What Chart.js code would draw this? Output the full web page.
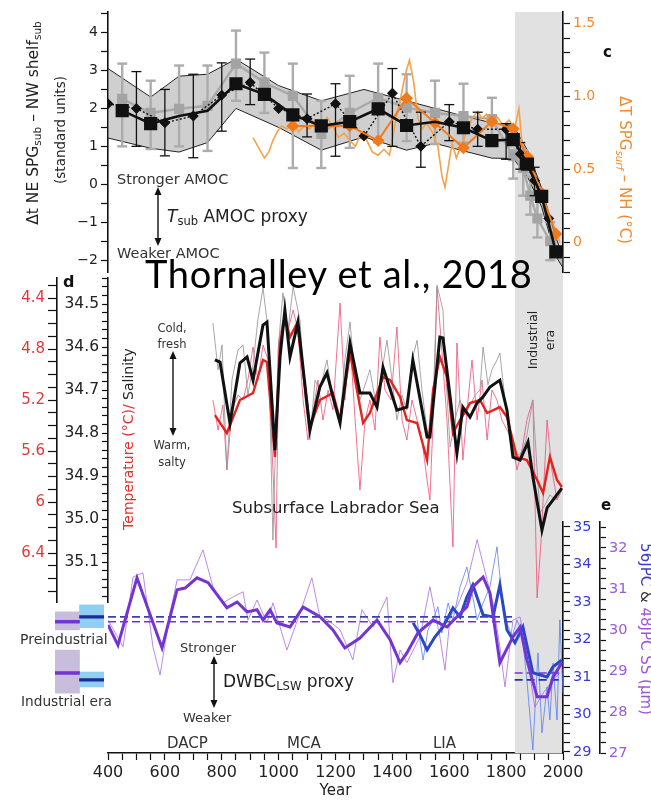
<!DOCTYPE html>
<html>
<head>
<meta charset="utf-8">
<script src="https://cdn.jsdelivr.net/npm/chart.js@4.4.1/dist/chart.umd.min.js"></script>
<style>
  html, body { margin: 0; padding: 0; background: #fff; }
  #fig { position: relative; width: 651px; height: 801px; overflow: hidden; font-family: "DejaVu Sans", sans-serif; }
  #fig canvas, #fig svg { position: absolute; left: 0; top: 0; }
  .t { position: absolute; white-space: nowrap; line-height: 1; color: #333; }
  .rl { transform: translate(-50%, -50%) rotate(-90deg); }
  .rr { transform: translate(-50%, -50%) rotate(90deg); }
  sub { font-size: 0.68em; vertical-align: -0.3em; line-height: 0; }
  .lbl { font-weight: bold; color: #111; font-size: 15px; }
</style>
</head>
<body>
<div id="fig">
  <canvas id="frame" width="651" height="801"></canvas>
  <canvas id="panelC" width="651" height="801"></canvas>
  <canvas id="panelD" width="651" height="801"></canvas>
  <canvas id="panelE" width="651" height="801"></canvas>
  <canvas id="boxes" width="651" height="801"></canvas>

  <svg width="651" height="801">
    <g fill="#111" stroke="#111" stroke-width="1.4">
      <line x1="158" y1="193" x2="158" y2="240"/>
      <polygon stroke="none" points="158,187 154.5,195 161.5,195"/>
      <polygon stroke="none" points="158,246 154.5,238 161.5,238"/>
      <line x1="173" y1="357" x2="173" y2="430"/>
      <polygon stroke="none" points="173,351 169.5,359 176.5,359"/>
      <polygon stroke="none" points="173,436 169.5,428 176.5,428"/>
      <line x1="214" y1="662" x2="214" y2="702"/>
      <polygon stroke="none" points="214,656 210.5,664 217.5,664"/>
      <polygon stroke="none" points="214,708 210.5,700 217.5,700"/>
    </g>
  </svg>

  <div class="t" style="left:145px;top:254px;font-family:Lato;font-size:38px;letter-spacing:0.7px;color:#000;">Thornalley et al., 2018</div>

  <div class="t rl" style="left:34px;top:123px;font-size:15.5px;color:#222;">Δt NE SPG<sub>sub</sub> – NW shelf<sub>sub</sub></div>
  <div class="t rl" style="left:61px;top:130px;font-size:13.5px;color:#222;">(standard units)</div>
  <div class="t rr" style="left:624px;top:170px;font-size:15px;color:#f08a30;">ΔT SPG<sub><i>surf</i></sub> – NH (°C)</div>
  <div class="t lbl" style="left:603px;top:45px;">c</div>
  <div class="t" style="left:117px;top:172px;font-size:14.5px;">Stronger AMOC</div>
  <div class="t" style="left:167px;top:208px;font-size:17px;color:#222;"><i>T</i><sub>sub</sub> AMOC proxy</div>
  <div class="t" style="left:117px;top:246px;font-size:14.5px;">Weaker AMOC</div>

  <div class="t lbl" style="left:63px;top:274px;font-size:16px;">d</div>
  <div class="t rl" style="left:128px;top:439px;font-size:14px;"><span style="color:#e03030;">Temperature (°C)/</span> <span style="color:#222;">Salinity</span></div>
  <div class="t" style="left:142px;top:320px;width:60px;text-align:center;font-size:11.5px;line-height:16px;">Cold,<br>fresh</div>
  <div class="t" style="left:142px;top:437px;width:60px;text-align:center;font-size:11.5px;line-height:17px;">Warm,<br>salty</div>
  <div class="t" style="left:232px;top:500px;font-size:16.5px;color:#222;">Subsurface Labrador Sea</div>
  <div class="t rl" style="left:541px;top:340px;font-size:12.5px;line-height:17px;text-align:center;color:#222;">Industrial<br>era</div>

  <div class="t lbl" style="left:601px;top:498px;">e</div>
  <div class="t rr" style="left:645px;top:629px;font-size:15px;"><span style="color:#3a3ad0;">56JPC</span> <span style="color:#333;">&amp;</span> <span style="color:#9a5ad8;">48JPC SS (µm)</span></div>
  <div class="t" style="left:180px;top:641px;font-size:13px;">Stronger</div>
  <div class="t" style="left:183px;top:711px;font-size:13px;">Weaker</div>
  <div class="t" style="left:223px;top:673px;font-size:17px;color:#222;">DWBC<sub>LSW</sub> proxy</div>
  <div class="t" style="left:20px;top:632px;font-size:14px;">Preindustrial</div>
  <div class="t" style="left:21px;top:695px;font-size:13.7px;">Industrial era</div>
  <div class="t" style="left:167px;top:736px;font-size:15px;">DACP</div>
  <div class="t" style="left:287px;top:736px;font-size:15px;">MCA</div>
  <div class="t" style="left:433px;top:736px;font-size:15px;">LIA</div>
</div>

<script>
// ---------- panel c: T_sub AMOC proxy (left axis) and SPG SST (right axis) ----------
const cBandYears = [400, 550, 650, 750, 850, 1000, 1150, 1300, 1450, 1550, 1650, 1750, 1825, 1875, 1925, 1975, 2000];
const cBandHigh = [3.05, 2.3, 2.85, 2.9, 3.3, 2.6, 2.2, 2.5, 2.2, 2.0, 1.8, 1.62, 1.55, 0.9, -0.1, -1.4, -1.9];
const cBandLow = [1.22, 0.95, 0.85, 1.1, 2.0, 1.5, 0.9, 1.25, 0.9, 1.08, 0.88, 0.69, 0.68, 0.2, -0.6, -1.9, -2.2];

const cSquareYears = [450, 550, 650, 750, 850, 950, 1050, 1150, 1250, 1350, 1450, 1550, 1650, 1750, 1825, 1875, 1925, 1975];
const cBlackSquares = [1.94, 1.6, 1.8, 1.94, 2.65, 2.37, 1.83, 1.54, 1.65, 1.99, 1.55, 1.65, 1.49, 1.15, 1.18, 0.53, -0.32, -1.78];
const cHiddenSquares = [650, 750, 1550];

const cGreyYears = [450, 550, 650, 750, 850, 950, 1050, 1150, 1250, 1350, 1450, 1550, 1650, 1750, 1825, 1860, 1885, 1910, 1955];
const cGreySquares = [2.25, 1.88, 1.99, 2.07, 3.18, 2.68, 2.33, 1.33, 1.88, 2.28, 2.02, 1.88, 1.8, 1.72, 0.74, 0.43, -0.3, -0.9, -1.5];
const cGreyLow = [1.0, 0.93, 1.0, 0.88, 2.2, 1.88, 0.43, 0.43, 0.96, 1.1, 1.14, 1.06, 1.1, 1.2, 0.15, -0.3, -0.8, -1.4, -2.0];
const cGreyHigh = [3.18, 2.73, 3.13, 3.13, 4.05, 3.47, 3.18, 2.2, 2.86, 3.18, 2.9, 2.73, 2.65, 2.28, 0.9, 0.9, 0.2, -0.4, -1.0];

const cDiamondYears = [400, 500, 600, 700, 800, 900, 1000, 1100, 1200, 1300, 1400, 1500, 1600, 1700, 1800, 1850, 1900, 1950];
const cDiamonds = [2.12, 2.0, 1.62, 1.8, 2.35, 2.68, 2.0, 1.73, 2.12, 1.27, 2.4, 1.0, 1.65, 1.45, 1.45, 0.8, 0.1, -0.9];
const cDiamondLow = [null, 1.0, 0.75, 0.7, 1.4, 2.1, null, 1.25, 0.74, null, 1.0, 0.45, 1.15, 1.0, 0.66, 0.4, -0.3, null];
const cDiamondHigh = [null, 2.97, 2.5, 2.9, 3.2, 3.3, null, 2.38, 2.65, null, 3.05, 1.9, 2.1, 1.9, 1.6, 1.1, 0.45, null];

const cOrangeDiamondYears = [1050, 1150, 1250, 1350, 1450, 1550, 1650, 1750, 1825, 1875, 1925, 1975];
const cOrangeDiamonds = [0.8, 0.8, 0.8, 0.7, 0.99, 0.82, 0.65, 0.83, 0.78, 0.59, 0.34, 0.06];
const cOrangeYears = [910, 930, 950, 965, 980, 995, 1010, 1030, 1050, 1070, 1090, 1110, 1130, 1150, 1170, 1190, 1210, 1230, 1250, 1270,
  1290, 1310, 1330, 1350, 1370, 1390, 1410, 1430, 1445, 1460, 1475, 1490, 1505, 1520, 1540, 1560, 1575, 1585, 1595, 1610,
  1625, 1640, 1660, 1680, 1700, 1715, 1730, 1750, 1770, 1790, 1810, 1830, 1845, 1855, 1870, 1890, 1910, 1930, 1950, 1970, 1990];
const cOrange = [0.72, 0.65, 0.58, 0.62, 0.7, 0.76, 0.8, 0.78, 0.82, 0.76, 0.8, 0.78, 0.84, 0.78, 0.86, 0.8, 0.72, 0.75, 0.7, 0.66,
  0.75, 0.7, 0.62, 0.6, 0.64, 0.6, 0.82, 1.0, 1.15, 1.25, 1.1, 0.85, 0.78, 0.82, 0.76, 0.66, 0.45, 0.38, 0.5, 0.68,
  0.58, 0.66, 0.75, 0.85, 0.9, 0.85, 0.88, 0.82, 0.86, 0.8, 0.84, 0.78, 0.92, 0.7, 0.6, 0.5, 0.4, 0.3, 0.2, 0.1, 0.0];

// ---------- panel d: subsurface Labrador Sea salinity / temperature ----------
const dBlackYears = [776, 794, 829, 864, 889, 910, 945, 959, 987, 1005, 1022, 1040, 1068, 1110, 1145, 1170, 1191, 1216, 1251, 1286,
  1321, 1346, 1367, 1416, 1451, 1472, 1522, 1532, 1567, 1578, 1627, 1648, 1673, 1698, 1719, 1743, 1778, 1803, 1824, 1849,
  1877, 1894, 1926, 1944, 1996];
const dSalinity = [34.630, 34.635, 34.777, 34.637, 34.623, 34.677, 34.549, 34.542, 34.840, 34.623, 34.514, 34.623, 34.542, 34.793, 34.693, 34.660, 34.716, 34.777, 34.591, 34.707,
  34.707, 34.740, 34.647, 34.747, 34.740, 34.630, 34.809, 34.809, 34.577, 34.579, 34.847, 34.740, 34.763, 34.730, 34.716, 34.693, 34.677, 34.747, 34.856, 34.863,
  34.821, 34.902, 35.026, 34.974, 34.928];

const dRedYears = [776, 818, 864, 910, 945, 959, 987, 1005, 1022, 1040, 1065, 1110, 1145, 1191, 1216, 1251, 1297, 1321, 1367, 1392,
  1427, 1451, 1487, 1522, 1543, 1567, 1592, 1613, 1638, 1673, 1708, 1733, 1778, 1803, 1838, 1873, 1909, 1930, 1954, 1979, 1996];
const dTemp = [5.318, 5.459, 5.200, 5.145, 4.886, 4.902, 5.647, 4.753, 4.549, 4.706, 4.596, 5.412, 5.200, 5.145, 5.357, 4.831, 5.380, 5.302, 5.020, 5.043,
  5.176, 5.357, 5.380, 5.671, 5.122, 4.863, 5.020, 5.459, 5.357, 5.224, 5.200, 5.302, 5.255, 5.333, 5.647, 5.671, 5.827, 5.929, 5.647, 5.827, 5.882];

const dGreyYears = [769, 787, 801, 818, 836, 857, 875, 892, 910, 927, 945, 963, 980, 998, 1015, 1033, 1051, 1075, 1093, 1110,
  1128, 1145, 1170, 1191, 1216, 1233, 1251, 1269, 1286, 1304, 1321, 1346, 1364, 1381, 1399, 1416, 1434, 1451, 1469, 1487,
  1504, 1522, 1532, 1546, 1557, 1578, 1589, 1603, 1620, 1638, 1655, 1673, 1691, 1708, 1719, 1736, 1750, 1768, 1778, 1796,
  1814, 1831, 1849, 1870, 1894, 1909, 1919, 1937, 1954, 1975, 1996];
const dGreySal = [34.544, 34.653, 34.595, 34.886, 34.677, 34.607, 34.595, 34.712, 34.642, 34.537, 34.463, 34.560, 35.049, 34.607, 34.474, 34.560, 34.460, 34.537, 34.723, 34.816,
  34.677, 34.700, 34.630, 34.723, 34.770, 34.630, 34.542, 34.677, 34.723, 34.688, 34.653, 34.747, 34.653, 34.584, 34.677, 34.770, 34.712, 34.747, 34.630, 34.584,
  34.700, 34.793, 34.816, 34.677, 34.456, 34.514, 34.677, 34.833, 34.770, 34.723, 34.758, 34.735, 34.712, 34.700, 34.600, 34.688, 34.653, 34.630, 34.614, 34.723,
  34.816, 34.851, 34.851, 34.816, 34.723, 34.886, 34.986, 34.967, 34.944, 34.956, 34.933];

const dPinkYears = [769, 787, 804, 818, 836, 857, 875, 892, 910, 927, 945, 963, 980, 991, 1001, 1015, 1033, 1051, 1068, 1086,
  1103, 1117, 1138, 1156, 1174, 1191, 1216, 1233, 1251, 1269, 1286, 1304, 1321, 1339, 1356, 1374, 1395, 1416, 1434, 1451,
  1469, 1487, 1504, 1522, 1532, 1546, 1557, 1574, 1592, 1613, 1627, 1648, 1666, 1680, 1698, 1715, 1733, 1750, 1768, 1785,
  1803, 1821, 1838, 1856, 1873, 1894, 1909, 1923, 1944, 1961, 1979, 1996];
const dPinkTemp = [5.200, 5.435, 5.239, 5.749, 5.278, 5.161, 5.200, 5.043, 4.784, 5.043, 4.769, 4.886, 5.749, 6.361, 4.729, 4.573, 4.651, 4.494, 4.651, 5.200,
  5.514, 5.357, 5.043, 5.357, 5.122, 5.278, 4.439, 5.200, 4.729, 5.357, 5.906, 5.357, 5.200, 5.435, 4.706, 5.122, 5.200, 4.627, 5.357, 5.514,
  5.200, 5.357, 5.514, 5.827, 5.984, 5.200, 4.314, 4.808, 5.357, 6.353, 4.753, 5.671, 5.200, 4.886, 5.357, 5.043, 5.514, 5.122, 5.200, 5.357,
  5.435, 5.514, 5.749, 5.592, 5.357, 5.200, 6.753, 6.298, 5.357, 5.749, 5.984, 5.906];

// ---------- panel e: DWBC_LSW sortable silt ----------
const ePurpleYears = [400, 435, 502, 590, 643, 671, 713, 752, 818, 854, 889, 924, 945, 970, 994, 1040, 1086, 1145, 1191, 1233,
  1286, 1346, 1392, 1427, 1451, 1490, 1543, 1592, 1627, 1662, 1683, 1719, 1743, 1778, 1824, 1849, 1873, 1909, 1944, 1965, 1996];
const ePurple = [30.12, 29.63, 31.27, 29.56, 30.98, 31.02, 31.27, 31.15, 30.54, 30.68, 30.44, 30.49, 30.24, 30.49, 30.17, 30.07, 30.56, 30.32, 30.0, 29.56,
  29.8, 30.24, 29.76, 29.2, 29.44, 29.93, 30.24, 30.07, 30.32, 30.56, 31.05, 31.29, 30.9, 29.2, 29.83, 30.07, 29.27, 28.37, 28.37, 28.85, 29.2];
const ePurpleThinYears = [400, 453, 488, 523, 558, 583, 618, 643, 688, 734, 769, 804, 839, 875, 892, 924, 959, 980, 1029, 1075,
  1117, 1145, 1174, 1216, 1261, 1293, 1332, 1381, 1402, 1427, 1451, 1497, 1532, 1567, 1585, 1603, 1627, 1662, 1698, 1733,
  1754, 1778, 1796, 1824, 1849, 1877, 1901, 1930, 1965, 1989];
const ePurpleThin = [30.24, 29.59, 31.29, 31.39, 29.59, 28.9, 30.41, 31.22, 31.22, 31.95, 31.05, 30.66, 30.8, 30.93, 30.24, 30.73, 30.17, 30.66, 29.51, 30.41,
  31.27, 30.32, 30.24, 30.0, 29.27, 30.49, 30.07, 30.8, 28.71, 29.51, 29.2, 29.83, 31.05, 29.83, 29.02, 30.32, 30.56, 31.15, 32.2, 31.22,
  30.66, 29.59, 28.61, 30.24, 30.32, 29.2, 28.12, 28.46, 28.78, 28.95];

const eBlueYears = [1473, 1497, 1522, 1550, 1578, 1613, 1638, 1662, 1683, 1719, 1754, 1778, 1803, 1831, 1859, 1894, 1944, 1965, 1996];
const eBlue = [32.44, 32.12, 31.72, 32.07, 32.33, 32.84, 32.6, 33.13, 33.45, 32.65, 32.6, 33.45, 32.25, 31.91, 32.33, 31.11, 31.0, 31.27, 31.45];
const eBlueThinYears = [1487, 1497, 1508, 1525, 1543, 1560, 1574, 1596, 1613, 1638, 1662, 1680, 1698, 1719, 1743, 1768, 1785, 1803, 1821, 1838,
  1856, 1873, 1894, 1912, 1926, 1944, 1954, 1965, 1979, 1989, 2000];
const eBlueThin = [32.52, 31.99, 31.45, 32.25, 32.52, 32.87, 32.17, 32.97, 32.52, 33.4, 33.93, 33.24, 32.52, 32.97, 33.4, 34.47, 33.13, 32.44, 32.07, 32.52,
  32.17, 30.92, 29.05, 31.64, 29.51, 30.73, 29.85, 31.37, 29.85, 32.52, 30.57];

// era means and spreads (purple = 48JPC, blue = 56JPC)
const industrialStart = 1830;
const preMeanPurple = 30.2, preMeanBlue = 32.6;
const indMeanPurple = 28.95, indMeanBlue = 30.92;
const preRangePurple = [30.0, 30.44], preRangeBlue = [32.31, 32.92];
const indRangePurple = [28.46, 29.51], indRangeBlue = [30.73, 31.13];
const boxColumns = ['48JPC', '56JPC'];

// ---------- helpers ----------
Chart.defaults.font.family = "'DejaVu Sans', sans-serif";
Chart.defaults.animation = false;
Chart.defaults.events = [];
Chart.defaults.plugins.legend.display = false;
Chart.defaults.plugins.tooltip.enabled = false;

const pts = (xs, ys) => xs.map((x, i) => ({ x, y: ys[i] }));

function errorBars(xs, lo, hi) {
  const out = [];
  xs.forEach((x, i) => {
    if (lo[i] == null) return;
    out.push({ x, y: lo[i] }, { x, y: hi[i] }, { x, y: null });
  });
  return out;
}

function yAxis(position, min, max, step, width, weight, color, size, tickLen, label, reverse) {
  return {
    type: 'linear', position, min, max, weight, reverse: !!reverse,
    border: { color: '#111', width: 1.6 },
    grid: { drawOnChartArea: false, tickLength: tickLen, tickColor: '#111', tickWidth: 1.2 },
    ticks: { stepSize: step, includeBounds: false, autoSkip: false, padding: 3, color, font: { size }, callback: label },
    afterFit: (s) => { s.width = width; },
  };
}

const hiddenX = { type: 'linear', min: 400, max: 2000, display: false };
const line = (extra) => Object.assign({ borderWidth: 1, pointRadius: 0, tension: 0, fill: false }, extra);

// ---------- frame: industrial shading + year axis ----------
new Chart(document.getElementById('frame'), {
  type: 'line',
  data: {
    datasets: [line({
      data: [{ x: industrialStart, y: 1 }, { x: 2000, y: 1 }],
      borderWidth: 0, fill: 'origin', backgroundColor: '#e1e1e1',
    })],
  },
  options: {
    responsive: false,
    layout: { padding: { left: 108, right: 88, top: 12, bottom: 0 } },
    scales: {
      x: {
        type: 'linear', min: 400, max: 2000, position: 'bottom',
        border: { color: '#111', width: 1.6 },
        grid: { drawOnChartArea: false, tickLength: 7, tickColor: '#111', tickWidth: 1.2 },
        ticks: { stepSize: 50, autoSkip: false, maxRotation: 0, padding: 3, color: '#222', font: { size: 16 },
          callback: (v) => (v % 200 === 0 ? String(v) : '') },
        title: { display: true, text: 'Year', color: '#222', font: { size: 15 }, padding: { top: 0, bottom: 1 } },
        afterFit: (s) => { s.height = 48; },
      },
      y: { display: false, min: 0, max: 1 },
    },
  },
});

// ---------- panel c ----------
const ORANGE = '#f07a1c';
new Chart(document.getElementById('panelC'), {
  type: 'line',
  data: {
    datasets: [
      line({ data: pts(cSquareYears, cBlackSquares), yAxisID: 'yL', borderColor: '#111', borderWidth: 2.6,
        pointStyle: 'rect', backgroundColor: '#111',
        pointRadius: cSquareYears.map((y) => (cHiddenSquares.includes(y) ? 0 : 7.5)) }),
      line({ data: pts(cOrangeDiamondYears, cOrangeDiamonds), yAxisID: 'yR', borderColor: ORANGE, borderWidth: 2,
        pointStyle: 'rectRot', pointRadius: 5, backgroundColor: ORANGE, pointBorderColor: ORANGE }),
      line({ data: pts(cDiamondYears, cDiamonds), yAxisID: 'yL', borderColor: '#111', borderWidth: 1.4, borderDash: [2, 2],
        pointStyle: 'rectRot', pointRadius: 4.5, backgroundColor: '#111', pointBorderColor: '#111' }),
      line({ data: errorBars(cDiamondYears, cDiamondLow, cDiamondHigh), yAxisID: 'yL', borderColor: '#111', borderWidth: 1.3,
        pointStyle: 'line', pointRadius: 5, pointBorderColor: '#111', pointBorderWidth: 1.3 }),
      line({ data: pts(cOrangeYears, cOrange), yAxisID: 'yR', borderColor: '#f5a24a', borderWidth: 1.6 }),
      line({ data: pts(cGreyYears, cGreySquares), yAxisID: 'yL', borderColor: '#a9a9a9', borderWidth: 2.4,
        pointStyle: 'rect', pointRadius: 5.5, backgroundColor: '#a4a4a4', pointBorderColor: '#a4a4a4' }),
      line({ data: errorBars(cGreyYears, cGreyLow, cGreyHigh), yAxisID: 'yL', borderColor: '#acacac', borderWidth: 2.4,
        pointStyle: 'line', pointRadius: 5, pointBorderColor: '#acacac', pointBorderWidth: 2.4 }),
      line({ data: pts(cBandYears, cBandHigh), yAxisID: 'yL', borderColor: '#222', borderWidth: 1,
        fill: '+1', backgroundColor: 'rgba(140,140,140,0.42)' }),
      line({ data: pts(cBandYears, cBandLow), yAxisID: 'yL', borderColor: '#222', borderWidth: 1 }),
    ],
  },
  options: {
    responsive: false,
    layout: { padding: { left: 0, right: 0, top: 12, bottom: 801 - 272 } },
    plugins: { filler: { drawTime: 'beforeDatasetsDraw' } },
    scales: {
      x: hiddenX,
      yL: yAxis('left', -2.31, 4.54, 0.5, 108, 0, '#222', 14, 7,
        (v) => (Number.isInteger(v) ? (v < 0 ? '\u2212' + (-v) : String(v)) : '')),
      yR: yAxis('right', -0.2, 1.58, 0.1, 88, 0, '#f08a30', 14, 7,
        (v) => { const r = Math.round(v * 10); return r % 5 === 0 && r >= 0 ? (r === 0 ? '0' : (r / 10).toFixed(1)) : ''; }),
    },
  },
});

// ---------- panel d ----------
new Chart(document.getElementById('panelD'), {
  type: 'line',
  data: {
    datasets: [
      line({ data: pts(dBlackYears, dSalinity), yAxisID: 'yS', borderColor: '#111', borderWidth: 3 }),
      line({ data: pts(dRedYears, dTemp), yAxisID: 'yT', borderColor: '#e3231e', borderWidth: 2.4 }),
      line({ data: pts(dGreyYears, dGreySal), yAxisID: 'yS', borderColor: 'rgba(150,150,150,0.85)', borderWidth: 1 }),
      line({ data: pts(dPinkYears, dPinkTemp), yAxisID: 'yT', borderColor: 'rgba(236,80,120,0.8)', borderWidth: 1 }),
    ],
  },
  options: {
    responsive: false,
    layout: { padding: { left: 0, right: 88, top: 278, bottom: 801 - 602 } },
    scales: {
      x: hiddenX,
      yS: yAxis('left', 34.4395, 35.193, 0.02, 51, 0, '#222', 15.5, 6,
        (v) => (Math.round(v * 100) % 10 === 0 ? v.toFixed(1) : ''), true),
      yT: yAxis('left', 4.243, 6.784, 0.1, 57, 1, '#e03a3a', 15, 9,
        (v) => { const r = Math.round(v * 10); return r % 4 === 0 ? String(r / 10) : ''; }, true),
    },
  },
});

// ---------- panel e ----------
const PURPLE = '#7334d4', BLUE = '#2c47c6';
const dashed = (x0, x1, y, axis, color) => line({
  data: [{ x: x0, y }, { x: x1, y }], yAxisID: axis, borderColor: color, borderWidth: 1.6, borderDash: [8, 4],
});
new Chart(document.getElementById('panelE'), {
  type: 'line',
  data: {
    datasets: [
      line({ data: pts(ePurpleYears, ePurple), yAxisID: 'yP', borderColor: PURPLE, borderWidth: 3 }),
      line({ data: pts(eBlueYears, eBlue), yAxisID: 'yB', borderColor: BLUE, borderWidth: 3 }),
      dashed(400, industrialStart, preMeanBlue, 'yB', '#3a3fb8'),
      dashed(400, industrialStart, preMeanPurple, 'yP', PURPLE),
      dashed(industrialStart, 2000, indMeanPurple, 'yP', PURPLE),
      dashed(industrialStart, 2000, indMeanBlue, 'yB', '#2030a8'),
      line({ data: pts(eBlueThinYears, eBlueThin), yAxisID: 'yB', borderColor: 'rgba(80,120,240,0.75)', borderWidth: 1 }),
      line({ data: pts(ePurpleThinYears, ePurpleThin), yAxisID: 'yP', borderColor: 'rgba(170,110,225,0.8)', borderWidth: 1 }),
    ],
  },
  options: {
    responsive: false,
    layout: { padding: { left: 108, right: 0, top: 522, bottom: 48 } },
    scales: {
      x: hiddenX,
      yB: yAxis('right', 28.97, 35.13, 0.25, 37, 0, '#3a3ad0', 14.5, 7,
        (v) => (Number.isInteger(v) ? String(v) : '')),
      yP: yAxis('right', 27.0, 32.63, 0.25, 51, 1, '#9a5ad8', 14.5, 6,
        (v) => (Number.isInteger(v) ? String(v) : '')),
    },
  },
});

// ---------- era mean boxes at left of panel e ----------
const thin = (m) => [m - 0.035, m + 0.035];
new Chart(document.getElementById('boxes'), {
  type: 'bar',
  data: {
    labels: boxColumns,
    datasets: [
      { data: [thin(preMeanPurple), null], yAxisID: 'yP', backgroundColor: PURPLE },
      { data: [null, thin(preMeanBlue)], yAxisID: 'yB', backgroundColor: '#1d2a98' },
      { data: [thin(indMeanPurple), null], yAxisID: 'yP', backgroundColor: PURPLE },
      { data: [null, thin(indMeanBlue)], yAxisID: 'yB', backgroundColor: '#1d2a98' },
      { data: [preRangePurple, null], yAxisID: 'yP', backgroundColor: '#c8bedc' },
      { data: [null, preRangeBlue], yAxisID: 'yB', backgroundColor: '#8fd0f2' },
      { data: [indRangePurple, null], yAxisID: 'yP', backgroundColor: '#c8bedc' },
      { data: [null, indRangeBlue], yAxisID: 'yB', backgroundColor: '#8fd0f2' },
    ],
  },
  options: {
    responsive: false,
    layout: { padding: { left: 55, right: 651 - 104, top: 522, bottom: 48 } },
    datasets: { bar: { grouped: false, barPercentage: 1, categoryPercentage: 1, borderWidth: 0 } },
    scales: {
      x: { type: 'category', display: false },
      yB: { type: 'linear', display: false, min: 28.97, max: 35.13 },
      yP: { type: 'linear', display: false, min: 27.0, max: 32.63 },
    },
  },
});
</script>
</body>
</html>
